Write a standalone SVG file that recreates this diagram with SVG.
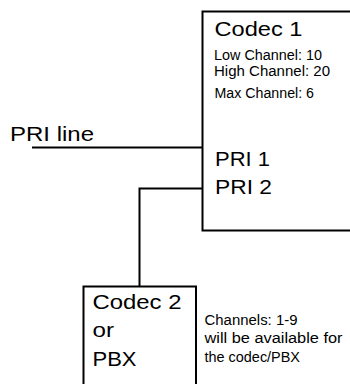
<svg xmlns="http://www.w3.org/2000/svg" width="350" height="384" viewBox="0 0 350 384">
  <style>
    .box { fill: #ffffff; stroke: #000000; stroke-width: 2; }
    .wire { fill: none; stroke: #000000; stroke-width: 2; }
    text { font-family: "Liberation Sans", Arimo, Arial, Helvetica, sans-serif; fill: #000000; }
    .big { font-size: 21px; }
    .small { font-size: 14px; }
  </style>
  <rect width="350" height="384" fill="#ffffff"/>
  <g id="connectors">
    <path class="wire" d="M32,147.5 H202.5"/>
    <path class="wire" d="M202.5,188.5 H139.5 V286.5"/>
  </g>
  <g id="codec1">
    <rect class="box" x="202.5" y="11.5" width="160" height="219"/>
    <text class="big" x="214.5" y="36" textLength="88" lengthAdjust="spacingAndGlyphs">Codec 1</text>
    <text class="small" x="214" y="60" textLength="108" lengthAdjust="spacingAndGlyphs">Low Channel: 10</text>
    <text class="small" x="214" y="75.5" textLength="116" lengthAdjust="spacingAndGlyphs">High Channel: 20</text>
    <text class="small" x="214.5" y="98" textLength="99.5" lengthAdjust="spacingAndGlyphs">Max Channel: 6</text>
    <text class="big" x="215" y="166" textLength="55" lengthAdjust="spacingAndGlyphs">PRI 1</text>
    <text class="big" x="215" y="194" textLength="57" lengthAdjust="spacingAndGlyphs">PRI 2</text>
  </g>
  <g id="pri-line-label">
    <text class="big" x="10" y="140.5" textLength="84" lengthAdjust="spacingAndGlyphs">PRI line</text>
  </g>
  <g id="codec2">
    <rect class="box" x="83.5" y="286.5" width="112.5" height="120"/>
    <text class="big" x="92.5" y="309" textLength="89" lengthAdjust="spacingAndGlyphs">Codec 2</text>
    <text class="big" x="92.5" y="337" textLength="21.5" lengthAdjust="spacingAndGlyphs">or</text>
    <text class="big" x="92.5" y="365.5" textLength="44" lengthAdjust="spacingAndGlyphs">PBX</text>
  </g>
  <g id="note">
    <text class="small" x="204.5" y="324.5" textLength="93" lengthAdjust="spacingAndGlyphs">Channels: 1-9</text>
    <text class="small" x="204.5" y="343" textLength="138" lengthAdjust="spacingAndGlyphs">will be available for</text>
    <text class="small" x="204.5" y="361.5" textLength="95.5" lengthAdjust="spacingAndGlyphs">the codec/PBX</text>
  </g>
</svg>
